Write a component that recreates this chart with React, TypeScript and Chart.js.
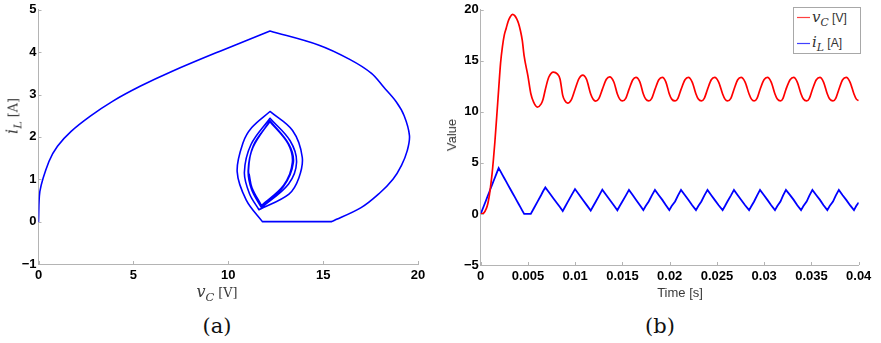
import React, { useEffect, useRef } from 'react';
import { Chart, registerables } from 'chart.js';

Chart.register(...registerables);

// ---- data (shared by both panels) ----
const time: number[] = [
  0, 0.0003, 0.0006, 0.00075, 0.0009, 0.00105, 0.0012, 0.00135, 0.0015, 0.0017, 0.0019,
  0.0021, 0.0023, 0.0025, 0.0027, 0.0029, 0.0031, 0.00338, 0.0036, 0.0038, 0.004, 0.0042, 0.0044, 0.0046,
  0.005, 0.0053,
  0.0056, 0.006, 0.0064, 0.0066, 0.00684, 0.0072, 0.0077, 0.0081, 0.0084, 0.00868,
  0.0089, 0.0092, 0.0096, 0.00998, 0.0104, 0.0108, 0.0112, 0.01164,
  0.0119, 0.01217, 0.0125, 0.01287, 0.0133, 0.01365, 0.0141, 0.01446,
  0.01471, 0.01499, 0.01535, 0.01569, 0.0161, 0.01643, 0.01685, 0.01721,
  0.01746, 0.01778, 0.0181, 0.01844, 0.01885, 0.01922, 0.0196, 0.01996,
  0.02021, 0.02057, 0.02087, 0.0212, 0.02162, 0.02197, 0.02238, 0.02278,
  0.02303, 0.02335, 0.02366, 0.024, 0.0244, 0.02476, 0.02518, 0.0256,
  0.02585, 0.02611, 0.02647, 0.0268, 0.0272, 0.02755, 0.02798, 0.0284,
  0.02865, 0.02893, 0.02924, 0.02956, 0.02998, 0.03034, 0.03074, 0.03114,
  0.03139, 0.03172, 0.03199, 0.0323, 0.03274, 0.03312, 0.0335, 0.0339,
  0.03415, 0.03449, 0.03478, 0.0351, 0.03552, 0.0359, 0.03628, 0.03668,
  0.03693, 0.03728, 0.03757, 0.0379, 0.0383, 0.03868, 0.03908, 0.0395,
  0.03975, 0.04,
];

const inductorCurrent: number[] = [
  0, 0.71, 1.42, 1.78, 2.13, 2.49, 2.84, 3.2, 3.55, 4.03, 4.5,
  4.17, 3.83, 3.5, 3.17, 2.83, 2.5, 2.03, 1.67, 1.33, 1.0, 0.67, 0.33, 0,
  0, 0,
  0.51, 1.18, 1.86, 2.22, 2.6, 2.15, 1.52, 1.03, 0.65, 0.28,
  0.66, 1.16, 1.82, 2.44, 1.91, 1.4, 0.89, 0.33,
  0.76, 1.2, 1.75, 2.38, 1.83, 1.39, 0.82, 0.36,
  0.78, 1.22, 1.8, 2.36, 1.84, 1.4, 0.85, 0.38,
  0.78, 1.22, 1.8, 2.36, 1.84, 1.38, 0.86, 0.38,
  0.78, 1.22, 1.8, 2.36, 1.84, 1.39, 0.86, 0.38,
  0.78, 1.22, 1.8, 2.36, 1.84, 1.38, 0.85, 0.38,
  0.78, 1.22, 1.8, 2.36, 1.84, 1.39, 0.85, 0.38,
  0.78, 1.22, 1.8, 2.36, 1.84, 1.38, 0.86, 0.38,
  0.78, 1.22, 1.8, 2.36, 1.84, 1.38, 0.86, 0.38,
  0.78, 1.22, 1.8, 2.36, 1.84, 1.38, 0.86, 0.38,
  0.78, 1.22, 1.8, 2.36, 1.84, 1.38, 0.86, 0.38,
  0.8, 1.12,
];

const capacitorVoltage: number[] = [
  0, 0.07, 0.55, 1.0, 1.72, 2.73, 3.9, 5.38, 7.05, 9.6, 12.2,
  14.75, 16.4, 17.55, 18.2, 18.85, 19.27, 19.55, 19.43, 19.13, 18.68, 17.97, 17.0, 15.45,
  13.5, 11.8,
  10.95, 10.47, 10.78, 11.24, 12.2, 13.39, 13.9, 13.72, 13.2, 11.62,
  11.12, 10.85, 11.2, 12.2, 13.26, 13.6, 13.18, 11.75,
  11.23, 11.05, 11.3, 12.2, 13.19, 13.43, 12.9, 11.75,
  11.25, 11.07, 11.33, 12.2, 13.15, 13.38, 12.92, 11.75,
  11.25, 11.07, 11.33, 12.2, 13.15, 13.38, 12.92, 11.75,
  11.25, 11.07, 11.33, 12.2, 13.15, 13.38, 12.92, 11.75,
  11.25, 11.07, 11.33, 12.2, 13.15, 13.38, 12.92, 11.75,
  11.25, 11.07, 11.33, 12.2, 13.15, 13.38, 12.92, 11.75,
  11.25, 11.07, 11.33, 12.2, 13.15, 13.38, 12.92, 11.75,
  11.25, 11.07, 11.33, 12.2, 13.15, 13.38, 12.92, 11.75,
  11.25, 11.07, 11.33, 12.2, 13.15, 13.38, 12.92, 11.75,
  11.25, 11.07, 11.33, 12.2, 13.15, 13.38, 12.92, 11.75,
  11.25, 11.1,
];

// ---- tick values ----
const phaseXTicks = [0, 5, 10, 15, 20];
const phaseYTicks = [-1, 0, 1, 2, 3, 4, 5];
const timeXTicks = [0, 0.005, 0.01, 0.015, 0.02, 0.025, 0.03, 0.035, 0.04];
const timeYTicks = [-5, 0, 5, 10, 15, 20];

const AXIS_COLOR = '#b4b4b4';
const SANS = '"Liberation Sans", Arial, sans-serif';
const SERIF = '"DejaVu Serif", serif';
const TICK_FONT = { family: SANS, size: 13, weight: 'bold' as const, lineHeight: 1.2 };
const TICK_COLOR = '#000000';

Chart.defaults.font.family = SANS;
Chart.defaults.font.size = 13;
(Chart.defaults.font as any).weight = 'bold';

const fmt = (v: number) => String(Number(v.toFixed(4))).replace('-', '\u2212');

const inwardTicks = {
  id: 'inwardTicks',
  afterDatasetsDraw(chart: any) {
    const { ctx, chartArea } = chart;
    const xs = chart.scales.x;
    const ys = chart.scales.y;
    ctx.save();
    ctx.strokeStyle = AXIS_COLOR;
    ctx.lineWidth = 1;
    ctx.beginPath();
    xs.ticks.forEach((_t: any, i: number) => {
      const px = Math.round(xs.getPixelForTick(i)) + 0.5;
      ctx.moveTo(px, chartArea.bottom);
      ctx.lineTo(px, chartArea.bottom - 3);
    });
    ys.ticks.forEach((_t: any, i: number) => {
      const py = Math.round(ys.getPixelForTick(i)) + 0.5;
      ctx.moveTo(chartArea.left, py);
      ctx.lineTo(chartArea.left + 3, py);
    });
    ctx.stroke();
    ctx.restore();
  },
};

function axis(min: number, max: number, ticks: number[], pad: number, fit: (s: any) => void) {
  return {
    type: 'linear' as const,
    min,
    max,
    grid: { display: false, drawTicks: false, tickLength: 0 },
    border: { display: true, color: AXIS_COLOR, width: 1 },
    ticks: { font: TICK_FONT, color: TICK_COLOR, padding: pad, autoSkip: false, maxRotation: 0, callback: (v: any) => fmt(Number(v)) },
    afterBuildTicks: (s: any) => {
      s.ticks = ticks.map((value) => ({ value }));
    },
    afterFit: fit,
  };
}

function buildPhase() {
  const pts: any[] = [];
  const n = time.length;
  const sgn = (d: number) => (d > 1e-9 ? 1 : d < -1e-9 ? -1 : 0);
  for (let i = 0; i < n; i++) {
    const p = { x: capacitorVoltage[i], y: inductorCurrent[i] };
    pts.push(p);
    if (
      i > 0 &&
      i < n - 1 &&
      sgn(inductorCurrent[i] - inductorCurrent[i - 1]) !== sgn(inductorCurrent[i + 1] - inductorCurrent[i])
    ) {
      pts.push({ x: null, y: null });
      pts.push({ x: p.x, y: p.y });
    }
  }
  return pts;
}

function MathText({ sym, sub, unit, size = 16, unitFont = SERIF }: { sym: string; sub: string; unit: string; size?: number; unitFont?: string }) {
  return (
    <span style={{ whiteSpace: 'nowrap' }}>
      <span style={{ fontFamily: SERIF, fontStyle: 'italic', fontSize: size }}>{sym}</span>
      <span style={{ fontFamily: SERIF, fontStyle: 'italic', fontSize: size * 0.72, position: 'relative', top: size * 0.28 }}>{sub}</span>
      <span style={{ fontFamily: unitFont, fontSize: size * 0.8 }}>{'\u00a0[' + unit + ']'}</span>
    </span>
  );
}

export default function App() {
  const refA = useRef<HTMLCanvasElement>(null);
  const refB = useRef<HTMLCanvasElement>(null);

  useEffect(() => {
    const chartA = new Chart(refA.current as HTMLCanvasElement, {
      type: 'scatter',
      data: {
        datasets: [
          {
            data: buildPhase(),
            showLine: true,
            borderColor: '#0000ff',
            backgroundColor: '#0000ff',
            borderWidth: 1.6,
            pointRadius: 0,
            tension: 0.35,
            spanGaps: false,
            borderCapStyle: 'round',
            borderJoinStyle: 'round',
          } as any,
        ],
      },
      options: {
        animation: false,
        responsive: false,
        layout: { padding: { left: 0, right: 22, top: 7, bottom: 0 } },
        plugins: { legend: { display: false }, tooltip: { enabled: false } },
        scales: {
          x: axis(0, 20, phaseXTicks, 4, (s: any) => { s.height = 36; }),
          y: axis(-1, 5, phaseYTicks, 2, (s: any) => { s.width = 38.5; }),
        } as any,
      },
      plugins: [inwardTicks],
    });

    const chartB = new Chart(refB.current as HTMLCanvasElement, {
      type: 'line',
      data: {
        datasets: [
          {
            label: 'vC [V]',
            data: time.map((t, i) => ({ x: t, y: capacitorVoltage[i] })),
            borderColor: '#ff0000',
            borderWidth: 1.7,
            pointRadius: 0,
            cubicInterpolationMode: 'monotone',
            fill: false,
          } as any,
          {
            label: 'iL [A]',
            data: time.map((t, i) => ({ x: t, y: inductorCurrent[i] })),
            borderColor: '#0000ff',
            borderWidth: 1.8,
            pointRadius: 0,
            tension: 0,
            fill: false,
          } as any,
        ],
      },
      options: {
        animation: false,
        responsive: false,
        layout: { padding: { left: 0, right: 22.3, top: 9, bottom: 0 } },
        plugins: { legend: { display: false }, tooltip: { enabled: false } },
        scales: {
          x: axis(0, 0.04, timeXTicks, 4, (s: any) => { s.height = 35; }),
          y: axis(-5, 20, timeYTicks, 2, (s: any) => { s.width = 40.7; }),
        } as any,
      },
      plugins: [inwardTicks],
    });

    return () => {
      chartA.destroy();
      chartB.destroy();
    };
  }, []);

  const titleColor = '#3a3a3a';

  return (
    <div style={{ position: 'fixed', left: 0, top: 0, width: 881, height: 343, background: '#fff', overflow: 'hidden' }}>
      <canvas ref={refA} width={440} height={300} style={{ position: 'absolute', left: 0, top: 0 }} />
      <canvas ref={refB} width={441} height={300} style={{ position: 'absolute', left: 440, top: 0 }} />

      {/* panel (a) axis titles */}
      <div style={{ position: 'absolute', left: 167, width: 100, top: 283, textAlign: 'center', lineHeight: '18px', color: titleColor }}>
        <MathText sym="v" sub="C" unit="V" />
      </div>
      <div style={{ position: 'absolute', left: 13, top: 116, transform: 'translate(-50%, -50%) rotate(-90deg)', lineHeight: '18px', color: titleColor }}>
        <MathText sym="i" sub="L" unit="A" />
      </div>

      {/* panel (b) axis titles */}
      <div style={{ position: 'absolute', left: 630, width: 100, top: 285, textAlign: 'center', fontFamily: SANS, fontSize: 13, lineHeight: '16px', color: titleColor }}>
        Time [s]
      </div>
      <div style={{ position: 'absolute', left: 452, top: 135, transform: 'translate(-50%, -50%) rotate(-90deg)', fontFamily: SANS, fontSize: 13, lineHeight: '16px', color: titleColor }}>
        Value
      </div>

      {/* legend */}
      <div style={{ position: 'absolute', left: 793, top: 7, width: 66, height: 45, border: '1px solid #a8a8a8', background: '#fff', color: '#333' }}>
        <svg width={16} height={45} style={{ position: 'absolute', left: 0, top: 0 }}>
          <line x1={3} y1={9.5} x2={16} y2={9.5} stroke="#ff4040" strokeWidth={1.2} />
          <line x1={3} y1={35.5} x2={16} y2={35.5} stroke="#4040ff" strokeWidth={1.2} />
        </svg>
        <div style={{ position: 'absolute', left: 18, top: 0, lineHeight: '18px' }}>
          <MathText sym="v" sub="C" unit="V" size={15} unitFont={SANS} />
        </div>
        <div style={{ position: 'absolute', left: 18, top: 25, lineHeight: '18px' }}>
          <MathText sym="i" sub="L" unit="A" size={15} unitFont={SANS} />
        </div>
      </div>

      {/* panel captions */}
      <div style={{ position: 'absolute', left: 167, width: 100, top: 314, textAlign: 'center', fontFamily: SERIF, fontSize: 21, lineHeight: '24px', color: '#111' }}>
        (a)
      </div>
      <div style={{ position: 'absolute', left: 610, width: 100, top: 314, textAlign: 'center', fontFamily: SERIF, fontSize: 21, lineHeight: '24px', color: '#111' }}>
        (b)
      </div>
    </div>
  );
}
